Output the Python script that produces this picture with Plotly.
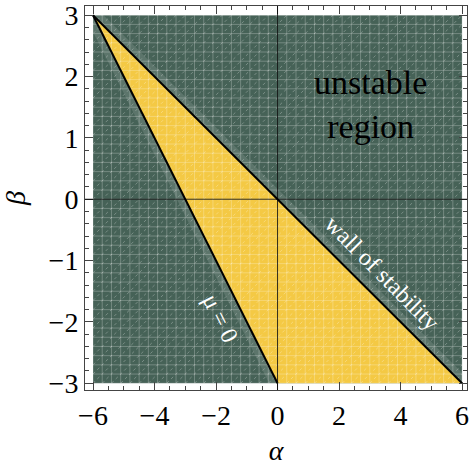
import numpy as np
import plotly.graph_objects as go

# region corners (alpha, beta)
alpha_box = [-6, 6, 6, -6, -6]
beta_box = [-3, -3, 3, 3, -3]

# stable (yellow) triangle
alpha_tri = [-6, 0, 6, -6]
beta_tri = [3, -3, -3, 3]

# boundary curves
alpha_wall = [-6, 6]
beta_wall = [3, -3]
alpha_mu0 = [-6, 0]
beta_mu0 = [3, -3]

x_ticks = [-6, -4, -2, 0, 2, 4, 6]
y_ticks = [-3, -2, -1, 0, 1, 2, 3]

green = "#466257"
yellow = "#f4c944"
serif = "Liberation Serif, Times New Roman, serif"

fig = go.Figure()

fig.add_trace(go.Scatter(x=alpha_box, y=beta_box, fill="toself", fillcolor=green,
                         line=dict(width=0), mode="lines", hoverinfo="skip"))
fig.add_trace(go.Scatter(x=alpha_tri, y=beta_tri, fill="toself", fillcolor=yellow,
                         line=dict(width=0), mode="lines", hoverinfo="skip"))

# soft sampling halo on the unstable side of each boundary
band = 0.17
fig.add_trace(go.Scatter(x=alpha_wall + alpha_wall[::-1] + alpha_wall[:1],
                         y=beta_wall + [b + band for b in beta_wall[::-1]] + beta_wall[:1],
                         fill="toself", fillcolor="rgba(255,255,255,0.12)",
                         line=dict(width=0), mode="lines", hoverinfo="skip"))
fig.add_trace(go.Scatter(x=alpha_mu0 + [a - 1.6 * band for a in alpha_mu0[::-1]] + alpha_mu0[:1],
                         y=beta_mu0 + beta_mu0[::-1] + beta_mu0[:1],
                         fill="toself", fillcolor="rgba(255,255,255,0.12)",
                         line=dict(width=0), mode="lines", hoverinfo="skip"))

# mesh overlay (plot-point grid look)
gx = np.linspace(-6, 6, 41)
gy = np.linspace(-3, 3, 41)
mx, my = [], []
for v in gx:
    mx += [v, v, None]
    my += [-3, 3, None]
for v in gy:
    mx += [-6, 6, None]
    my += [v, v, None]
fig.add_trace(go.Scatter(x=mx, y=my, mode="lines",
                         line=dict(color="rgba(255,255,255,0.25)", width=1),
                         hoverinfo="skip"))
dx, dy = [], []
for k in range(-40, 41):
    i0 = max(0, -k)
    i1 = min(40, 40 - k)
    if i1 <= i0:
        continue
    dx += [gx[i0], gx[i1], None]
    dy += [gy[i0 + k], gy[i1 + k], None]
fig.add_trace(go.Scatter(x=dx, y=dy, mode="lines",
                         line=dict(color="rgba(255,255,255,0.28)", width=1, dash="dot"),
                         hoverinfo="skip"))

fig.add_trace(go.Scatter(x=alpha_wall, y=beta_wall, mode="lines",
                         line=dict(color="black", width=2), hoverinfo="skip"))
fig.add_trace(go.Scatter(x=alpha_mu0, y=beta_mu0, mode="lines",
                         line=dict(color="black", width=2), hoverinfo="skip"))

# coordinate axes through the origin
fig.add_shape(type="line", xref="paper", yref="y", x0=0, x1=1, y0=0, y1=0,
              line=dict(color="rgba(0,0,0,0.8)", width=1), layer="above")
fig.add_shape(type="line", xref="x", yref="paper", x0=0, x1=0, y0=0, y1=1,
              line=dict(color="rgba(0,0,0,0.8)", width=1), layer="above")

fig.add_annotation(x=3.03, y=1.55, text="unstable<br>region", showarrow=False,
                   font=dict(family=serif, size=34, color="black"))
fig.add_annotation(x=3.4, y=-1.2, text="wall of stability", showarrow=False,
                   textangle=45, font=dict(family=serif, size=24, color="white"))
fig.add_annotation(x=-1.85, y=-1.93, text="\u03bc = 0", showarrow=False,
                   textangle=63.4, font=dict(family=serif, size=24, color="white"))

axis_common = dict(showgrid=False, zeroline=False, showline=True, linecolor="#444",
                   linewidth=1, mirror="ticks", ticks="inside", tickcolor="#444",
                   automargin=False,
                   tickfont=dict(family=serif, size=28, color="black"))

fig.update_layout(
    width=474, height=466,
    margin=dict(l=85, r=7, t=6, b=76),
    paper_bgcolor="white", plot_bgcolor="white",
    showlegend=False,
    xaxis=dict(range=[-6.26, 6.16], tickvals=x_ticks,
               ticktext=[str(v).replace("-", "\u2212") for v in x_ticks], ticklen=8,
               minor=dict(dtick=0.5, tick0=0, ticklen=4, ticks="inside", tickcolor="#444"),
               title=dict(text="<i>\u03b1</i>", font=dict(family=serif, size=28, color="black"),
                          standoff=10),
               **axis_common),
    yaxis=dict(range=[-3.11, 3.15], tickvals=y_ticks,
               ticktext=[str(v).replace("-", "\u2212") for v in y_ticks], ticklen=8,
               minor=dict(dtick=0.2, tick0=0, ticklen=4, ticks="inside", tickcolor="#444"),
               title=dict(text="<i>\u03b2</i>", font=dict(family=serif, size=28, color="black"),
                          standoff=14),
               **axis_common),
)

fig.write_html("out.html", config={"displayModeBar": False},
               post_script="document.body.style.margin='0';")
